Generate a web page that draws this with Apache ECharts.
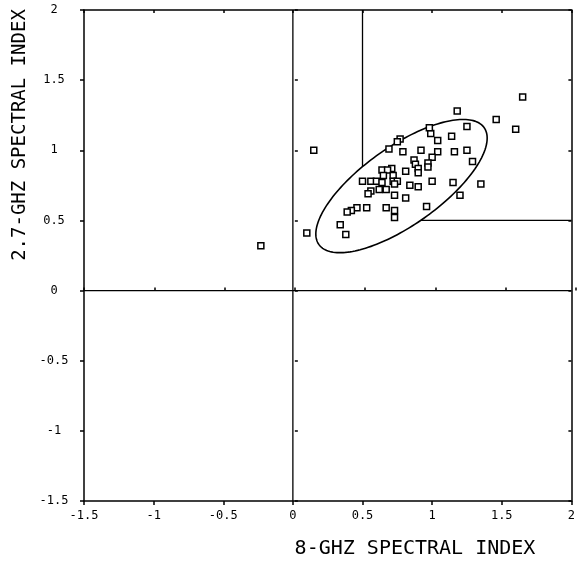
<!DOCTYPE html>
<html><head><meta charset="utf-8">
<script src="https://cdn.jsdelivr.net/npm/echarts@6/dist/echarts.min.js"></script>
<style>html,body{margin:0;padding:0;background:#fff}#c{width:578px;height:565px}</style>
</head><body><div id="c"></div>
<script>
// Measured source points (8-GHz index, 2.7-GHz index)
const xValues = [1.65,1.18,1.46,1.60,1.25,0.99,0.98,1.14,0.77,0.75,1.04,0.15,0.69,0.92,0.79,1.04,1.16,1.25,1.00,0.87,0.97,0.88,1.29,0.97,0.90,0.64,0.71,0.68,0.81,0.90,0.65,0.72,0.50,0.56,0.60,0.64,0.72,0.75,0.73,0.84,1.00,1.15,1.35,0.56,0.62,0.67,0.90,0.54,0.73,1.20,0.81,0.46,0.42,0.39,0.53,0.67,0.73,0.73,0.96,0.34,0.38,0.10,-0.23];
const yValues = [1.38,1.28,1.22,1.15,1.17,1.12,1.16,1.10,1.08,1.06,1.07,1.00,1.01,1.00,0.99,0.99,0.99,1.00,0.95,0.93,0.91,0.90,0.92,0.88,0.87,0.86,0.87,0.86,0.85,0.84,0.82,0.82,0.78,0.78,0.78,0.77,0.78,0.78,0.76,0.75,0.78,0.77,0.76,0.71,0.72,0.72,0.74,0.69,0.68,0.68,0.66,0.59,0.57,0.56,0.59,0.59,0.57,0.52,0.60,0.47,0.40,0.41,0.32];
const tickValues = [-1.5,-1,-0.5,0,0.5,1,1.5,2];
const xTitle = '8-GHZ SPECTRAL INDEX';
const yTitle = '2.7-GHZ SPECTRAL INDEX';
// Reference lines (data coordinates)
const refSegments = [
  [[0,-1.5],[0,2]],
  [[-1.5,0],[2,0]],
  [[0.5,2],[0.5,0.5]],
  [[0.5,0.5],[2,0.5]]
];
// Ellipse parameters (center, semi-axes, tilt in degrees)
const ellipseCenter = [0.78, 0.745];
const ellipseAxes = [0.725, 0.28];
const ellipseTilt = [35];

const FONT = 'DejaVu Sans Mono';
const AXMIN = tickValues[0], AXMAX = tickValues[tickValues.length-1], STEP = 0.5;
const black = '#000';
const gridRect = {left:84, right:2, top:10, bottom:64};

function axis(pos, gi, opts) {
  return Object.assign({
    type:'value', gridIndex:gi, position:pos, min:AXMIN, max:AXMAX, interval:STEP,
    axisLine:{show:true, onZero:false, lineStyle:{color:black, width:1.5}},
    axisTick:{show:true, inside:false, length:4, lineStyle:{color:black, width:1.5}},
    axisLabel:{show:false},
    splitLine:{show:false}
  }, opts);
}
const labelStyle = {color:black, fontFamily:FONT, fontSize:12};
const tickIn = {show:true, inside:true, length:3, lineStyle:{color:black,width:1.5}};
const tickOut = {show:true, inside:false, length:3, lineStyle:{color:black,width:1.5}};

const refSeries = refSegments.map(s => ({
  type:'line', xAxisIndex:0, yAxisIndex:0, z:1, silent:true, symbol:'none',
  data:s, lineStyle:{color:black, width:1.3}
}));

const chart = echarts.init(document.getElementById('c'), null, {renderer:'canvas'});
chart.setOption({
  backgroundColor:'#fff',
  animation:false,
  grid:[Object.assign({}, gridRect), Object.assign({}, gridRect)],
  xAxis:[
    axis('bottom',0,{axisLabel:Object.assign({show:true, margin:9}, labelStyle)}),
    axis('top',0,{axisTick:tickIn}),
    axis('bottom',1,{axisLine:{show:false}, axisTick:tickIn}),
    axis('top',1,{axisLine:{show:false}, axisTick:tickOut})
  ],
  yAxis:[
    axis('left',0,{axisLabel:Object.assign({show:true, margin:30, align:'center'}, labelStyle)}),
    axis('right',0,{axisTick:tickIn}),
    axis('left',1,{axisLine:{show:false}, axisTick:tickIn}),
    axis('right',1,{axisLine:{show:false}, axisTick:tickOut})
  ],
  graphic:[
    {type:'text', x:415, y:549, style:{text:xTitle, fill:black, font:'20px "'+FONT+'"', textAlign:'center', textVerticalAlign:'middle'}},
    {type:'text', x:20, y:135, rotation:Math.PI/2, style:{text:yTitle, fill:black, font:'19px "'+FONT+'"', textAlign:'center', textVerticalAlign:'middle'}}
  ],
  series: refSeries.concat([
    {
      type:'custom', xAxisIndex:0, yAxisIndex:0, z:5, silent:true,
      data:[[ellipseCenter[0], ellipseCenter[1]]],
      renderItem:function(params, api){
        const cx = ellipseCenter[0], cy = ellipseCenter[1];
        const a = ellipseAxes[0], b = ellipseAxes[1];
        const t = ellipseTilt[0]*Math.PI/180;
        const pts = [];
        for (let i=0;i<180;i++){
          const ang = i/180*2*Math.PI;
          const u = a*Math.cos(ang), v = b*Math.sin(ang);
          pts.push(api.coord([cx + u*Math.cos(t) - v*Math.sin(t), cy + u*Math.sin(t) + v*Math.cos(t)]));
        }
        return {type:'polygon', shape:{points:pts}, style:{fill:'#fff', stroke:black, lineWidth:1.6}};
      }
    },
    {
      type:'scatter', xAxisIndex:0, yAxisIndex:0, z:8,
      data: xValues.map((x,i)=>[x, yValues[i]]),
      symbol:'rect', symbolSize:6,
      itemStyle:{color:'#fff', borderColor:black, borderWidth:1.5, opacity:1}
    }
  ])
});
</script>
</body></html>
